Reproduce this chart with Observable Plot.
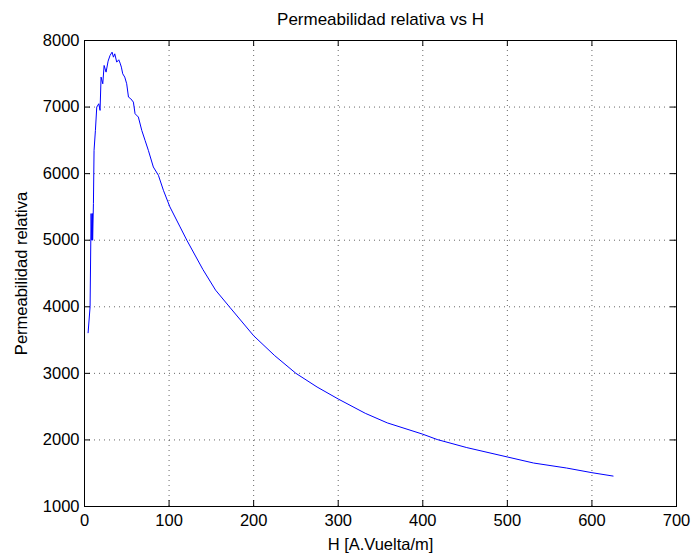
<!DOCTYPE html>
<html><head><meta charset="utf-8">
<script src="https://cdn.jsdelivr.net/npm/d3@7"></script>
<script src="https://cdn.jsdelivr.net/npm/@observablehq/plot@0.6"></script>
<style>body{margin:0;background:#fff}</style>
</head><body><div id="chart"></div>
<script>
const title = "Permeabilidad relativa vs H";
const xLabel = "H [A.Vuelta/m]";
const yLabel = "Permeabilidad relativa";
const xTicks = [0, 100, 200, 300, 400, 500, 600, 700];
const yTicks = [1000, 2000, 3000, 4000, 5000, 6000, 7000, 8000];

// H [A.Vuelta/m]
const hValues = [4.25, 6.6, 7.8, 8.6, 9.4, 9.6, 10.55, 11.3, 12.9, 14.5, 16.9, 18.4, 19.6, 21.6, 23.2, 25.5, 27.9, 30.2, 32.6, 34.2, 35.8, 38.1, 40.5, 42.1, 43.6, 45.2, 47.6, 49.9, 52, 54.7, 57.8, 59.8, 63.7, 67.7, 71.6, 75.5, 81.4, 87.4, 93.3, 101, 113, 121, 140, 155, 172, 200, 225, 250, 275, 300, 332, 358, 400, 417, 452, 500, 531, 570, 600, 625];
// Permeabilidad relativa
const muValues = [3610, 4000, 5400, 5000, 5400, 5000, 5550, 6350, 6650, 7000, 7050, 6950, 7450, 7350, 7625, 7525, 7690, 7775, 7825, 7750, 7800, 7675, 7710, 7660, 7600, 7500, 7450, 7350, 7150, 7125, 7075, 6900, 6850, 6650, 6500, 6350, 6100, 5975, 5750, 5500, 5200, 5000, 4560, 4250, 3990, 3565, 3265, 3000, 2795, 2615, 2400, 2256, 2086, 2006, 1885, 1744, 1653, 1578, 1508, 1457];

const data = hValues.map((h, i) => ({h, mu: muValues[i]}));

const W = 693, HT = 556, mt = 40, mb = 50, ml = 84, mr = 17;
const fh = HT - mt - mb, fw = W - ml - mr, tk = 6;

const plot = Plot.plot({
  width: W, height: HT,
  marginTop: mt, marginBottom: mb, marginLeft: ml, marginRight: mr,
  style: {fontFamily: "'Liberation Sans', Arial, Helvetica, sans-serif", fontSize: "16.5px", color: "#000", background: "#fff"},
  x: {domain: [0, 700]},
  y: {domain: [1000, 8000]},
  marks: [
    Plot.gridX(xTicks, {stroke: "#000", strokeOpacity: 0.6, strokeDasharray: "1,4"}),
    Plot.gridY(yTicks, {stroke: "#000", strokeOpacity: 0.6, strokeDasharray: "1,4"}),
    Plot.tickX(xTicks, {x: d => d, insetTop: fh - tk, stroke: "#000"}),
    Plot.tickX(xTicks, {x: d => d, insetBottom: fh - tk, stroke: "#000"}),
    Plot.tickY(yTicks, {y: d => d, insetRight: fw - tk, stroke: "#000"}),
    Plot.tickY(yTicks, {y: d => d, insetLeft: fw - tk, stroke: "#000"}),
    Plot.axisX(xTicks, {tickSize: 0, tickPadding: 8, label: null, tickFormat: d => String(d)}),
    Plot.axisY(yTicks, {tickSize: 0, tickPadding: 5, label: null, tickFormat: d => String(d)}),
    Plot.line(data, {x: "h", y: "mu", stroke: "#0000ff", strokeWidth: 1}),
    Plot.frame({stroke: "#000", strokeWidth: 1}),
    Plot.text([title], {frameAnchor: "top", lineAnchor: "middle", textAnchor: "middle", dy: -21, fontSize: 17})
    ,
    Plot.text([xLabel], {frameAnchor: "bottom", lineAnchor: "middle", textAnchor: "middle", dy: 38, fontSize: 16.5}),
    Plot.text([yLabel], {frameAnchor: "left", lineAnchor: "middle", textAnchor: "middle", dx: -63, rotate: -90, fontSize: 16.5})
  ]
});
document.getElementById("chart").append(plot);
</script>
</body></html>
